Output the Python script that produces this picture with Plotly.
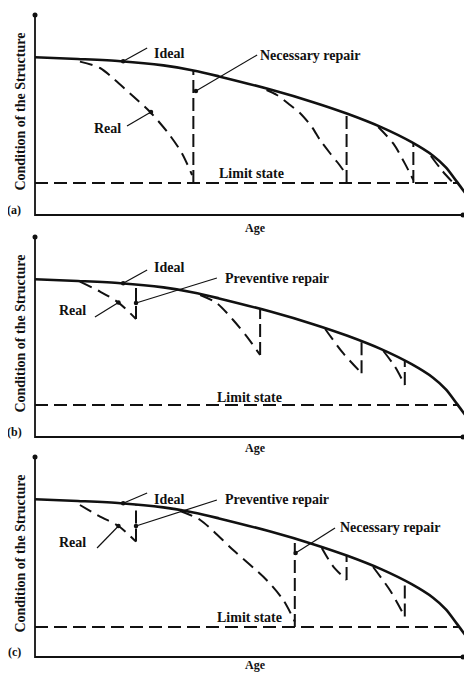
import plotly.graph_objects as go

# ---------------- data (age 0-100, condition 0-100) ----------------
IDEAL_AGE = [0, 10, 20, 30, 37, 43, 55, 65, 73, 81, 88, 93, 96, 98.5, 102]
IDEAL_COND = [78.9, 78.0, 76.9, 74.8, 72.3, 69.3, 62.7, 56.4, 50.6, 43.8, 36.4, 29.65, 23.8, 16.8, 6.7]

LIMIT_COND = [16, 16, 15]
LIMIT_AGE = [0, 99]

# panel (a)
A_REAL_AGE = [[10.5, 15.2, 18.7, 22.6, 26.9, 31.1, 34.3, 36.7],
              [54.1, 56.5, 59.6, 61.9, 64.7, 66.6, 68.9, 70.6, 72.0],
              [80.2, 83.7, 86.4, 88.4],
              [92.5, 95.0, 97.5]]
A_REAL_COND = [[76.7, 73.5, 67.5, 60, 51.5, 41, 31, 20],
               [62.5, 60, 55, 51, 44, 37.5, 31, 26.5, 22.5],
               [44.0, 35.8, 25.8, 17.5],
               [29.5, 22.5, 16.5]]
A_REPAIR_AGE = [37.0, 72.8, 88.4]
A_REPAIR_LOW = [16, 16, 16]
A_REPAIR_TOP = [72.3, 50.7, 35.9]
A_LABEL_TEXT = ["Ideal", "Necessary repair", "Real", "Limit state"]
A_LABEL_AGE = [27.3, 52.1, 20.6, 50.5]
A_LABEL_COND = [80.7, 80, 43.5, 21]
A_LABEL_ANCHOR = ["left", "left", "right", "center"]
A_LEADER_DOT_AGE = [20.6, 37.6, 27.1]
A_LEADER_DOT_COND = [76.9, 62, 51.5]
A_LEADER_END_AGE = [26.2, 51.9, 21.5]
A_LEADER_END_COND = [83.5, 80, 44.5]

# panel (b)
B_REAL_AGE = [[10.5, 15.2, 19.5, 23.6],
              [38.6, 42.5, 46.3, 49.5, 52.6],
              [67.8, 72.0, 76.3],
              [81.4, 84.1, 86.4]]
B_REAL_COND = [[77.7, 72.7, 67.2, 59],
               [71, 66.9, 58.5, 50.2, 41],
               [54.0, 41.9, 31.9],
               [43.0, 35.2, 26]]
B_REPAIR_AGE = [23.6, 52.6, 76.3, 86.4]
B_REPAIR_LOW = [59, 41, 31.9, 26]
B_REPAIR_TOP = [76.1, 64.0, 47.8, 38.1]
B_LABEL_TEXT = ["Ideal", "Preventive repair", "Real", "Limit state"]
B_LABEL_AGE = [27.3, 43.9, 12.4, 50.2]
B_LABEL_COND = [85, 79.5, 63.5, 20]
B_LABEL_ANCHOR = ["left", "left", "right", "center"]
B_LEADER_DOT_AGE = [20.6, 23.6, 19.5]
B_LEADER_DOT_COND = [76.9, 67, 67.2]
B_LEADER_END_AGE = [26.2, 42.5, 14.0]
B_LEADER_END_COND = [83.5, 79.5, 60]

# panel (c)
C_REAL_AGE = [[10.5, 15.2, 19.5, 23.6],
              [33.9, 38.6, 46.3, 54.1, 58.0, 60.7],
              [67.0, 69.7, 72.8],
              [79.0, 82.9, 86.4]]
C_REAL_COND = [[76, 70.2, 65.5, 57.7],
               [73.0, 68.5, 53.5, 38.5, 28.5, 17.7],
               [54.5, 45.2, 38.5],
               [45.0, 33.5, 20.2]]
C_REPAIR_AGE = [23.6, 60.7, 72.8, 86.4]
C_REPAIR_LOW = [57.7, 15, 38.5, 20.2]
C_REPAIR_TOP = [76.1, 57.0, 50.7, 38.1]
C_LABEL_TEXT = ["Ideal", "Preventive repair", "Real", "Necessary repair", "Limit state"]
C_LABEL_AGE = [27.3, 43.9, 12.4, 70.8, 50.2]
C_LABEL_COND = [79, 79, 57.5, 65, 20]
C_LABEL_ANCHOR = ["left", "left", "right", "left", "center"]
C_LEADER_DOT_AGE = [20.6, 23.6, 19.5, 60.9]
C_LEADER_DOT_COND = [76.9, 65.5, 65.5, 52]
C_LEADER_END_AGE = [26.2, 42.5, 14.5, 70.1]
C_LEADER_END_COND = [82, 78.5, 54.5, 64.5]

PANEL_TAGS = ["(a)", "(b)", "(c)"]
AXIS_TITLE_X = "Age"
AXIS_TITLE_Y = "Condition of the Structure"

# ---------------- layout geometry (pixels of the 472x673 page) ----------------
PAGE_MARGIN = 8                     # default body margin of the html page
W, H = 472 - PAGE_MARGIN, 673 - PAGE_MARGIN
X0_PX, PX_PER_AGE = 35, 4.28        # page px of age 0, px per age unit
PX_PER_COND = 2.0
# (band top px, band bottom px, x-axis px) for each panel, page coordinates
BANDS = [(8, 236, 215), (222, 458, 437), (444, 673, 657)]
AGE_LABEL_COND = [-6.5, -5.5, -3.8]

FONT = "Liberation Serif"
BLACK = "#111111"

fig = go.Figure()

panels = [
    (A_REAL_AGE, A_REAL_COND, A_REPAIR_AGE, A_REPAIR_LOW, A_REPAIR_TOP,
     A_LABEL_TEXT, A_LABEL_AGE, A_LABEL_COND, A_LABEL_ANCHOR,
     A_LEADER_DOT_AGE, A_LEADER_DOT_COND, A_LEADER_END_AGE, A_LEADER_END_COND),
    (B_REAL_AGE, B_REAL_COND, B_REPAIR_AGE, B_REPAIR_LOW, B_REPAIR_TOP,
     B_LABEL_TEXT, B_LABEL_AGE, B_LABEL_COND, B_LABEL_ANCHOR,
     B_LEADER_DOT_AGE, B_LEADER_DOT_COND, B_LEADER_END_AGE, B_LEADER_END_COND),
    (C_REAL_AGE, C_REAL_COND, C_REPAIR_AGE, C_REPAIR_LOW, C_REPAIR_TOP,
     C_LABEL_TEXT, C_LABEL_AGE, C_LABEL_COND, C_LABEL_ANCHOR,
     C_LEADER_DOT_AGE, C_LEADER_DOT_COND, C_LEADER_END_AGE, C_LEADER_END_COND),
]

annotations = []
layout_axes = {}

for i, p in enumerate(panels):
    (real_age, real_cond, rep_age, rep_low, rep_top,
     lab_text, lab_age, lab_cond, lab_anchor,
     ld_age, ld_cond, le_age, le_cond) = p
    n = "" if i == 0 else str(i + 1)
    xa, ya = "x" + n, "y" + n
    top_px, bot_px, axis_px = BANDS[i]

    xr = [(PAGE_MARGIN - X0_PX) / PX_PER_AGE, (PAGE_MARGIN + W - X0_PX) / PX_PER_AGE]
    yr = [(axis_px - bot_px) / PX_PER_COND, (axis_px - top_px) / PX_PER_COND]
    dom = [1 - (bot_px - PAGE_MARGIN) / H, 1 - (top_px - PAGE_MARGIN) / H]
    layout_axes["xaxis" + n] = dict(domain=[0, 1], range=xr, visible=False,
                                   fixedrange=True, anchor=ya)
    layout_axes["yaxis" + n] = dict(domain=dom, range=yr, visible=False,
                                   fixedrange=True, anchor=xa)

    def line(x, y, dash="solid", width=2.0, mode="lines", shape="linear", msize=0):
        fig.add_trace(go.Scatter(
            x=x, y=y, xaxis=xa, yaxis=ya, mode=mode,
            line=dict(color=BLACK, width=width, dash=dash, shape=shape, smoothing=0.8),
            marker=dict(size=msize, color=BLACK),
            hoverinfo="skip", showlegend=False))

    # axes with dot tips
    line([0, 0, 100], [100, 0, 0], width=1.8)
    line([0, 100], [100, 0], mode="markers", msize=5)

    # limit state
    line(LIMIT_AGE, [LIMIT_COND[i]] * 2, dash="13px,6px", width=2.0)

    # ideal
    line(IDEAL_AGE, IDEAL_COND, width=2.6, shape="spline")

    # real curves
    for ra, rc in zip(real_age, real_cond):
        line(ra, rc, dash="13px,7px", width=2.0, shape="spline")

    # repair verticals
    for a, lo, hi in zip(rep_age, rep_low, rep_top):
        line([a, a], [lo, hi], dash="13px,5px", width=2.0)

    # leader lines
    for da, dc, ea, ec in zip(ld_age, ld_cond, le_age, le_cond):
        line([da, ea], [dc, ec], width=1.2)
        line([da], [dc], mode="markers", msize=4.5)

    # labels
    for t, a, c, anc in zip(lab_text, lab_age, lab_cond, lab_anchor):
        annotations.append(dict(text=t, x=a, y=c, xref=xa, yref=ya, showarrow=False,
                                xanchor=anc, yanchor="middle",
                                font=dict(family=FONT, size=14, color=BLACK, weight="bold")))

    annotations.append(dict(text=PANEL_TAGS[i], x=-4.9, y=2.5, xref=xa, yref=ya,
                            showarrow=False, xanchor="center", yanchor="middle",
                            font=dict(family=FONT, size=12, color=BLACK, weight="bold")))
    annotations.append(dict(text=AXIS_TITLE_Y, x=-3.6, y=51.5, xref=xa, yref=ya,
                            showarrow=False, textangle=-90, xanchor="center", yanchor="middle",
                            font=dict(family=FONT, size=14, color=BLACK, weight="bold")))
    annotations.append(dict(text=AXIS_TITLE_X, x=51.5, y=AGE_LABEL_COND[i], xref=xa, yref=ya,
                            showarrow=False, xanchor="center", yanchor="middle",
                            font=dict(family=FONT, size=12, color=BLACK, weight="bold")))

fig.update_layout(
    width=W, height=H, margin=dict(l=0, r=0, t=0, b=0),
    paper_bgcolor="white", plot_bgcolor="rgba(0,0,0,0)",
    showlegend=False, annotations=annotations,
    font=dict(family=FONT, color=BLACK),
    **layout_axes,
)

fig.write_html("out.html", config={"displayModeBar": False})
